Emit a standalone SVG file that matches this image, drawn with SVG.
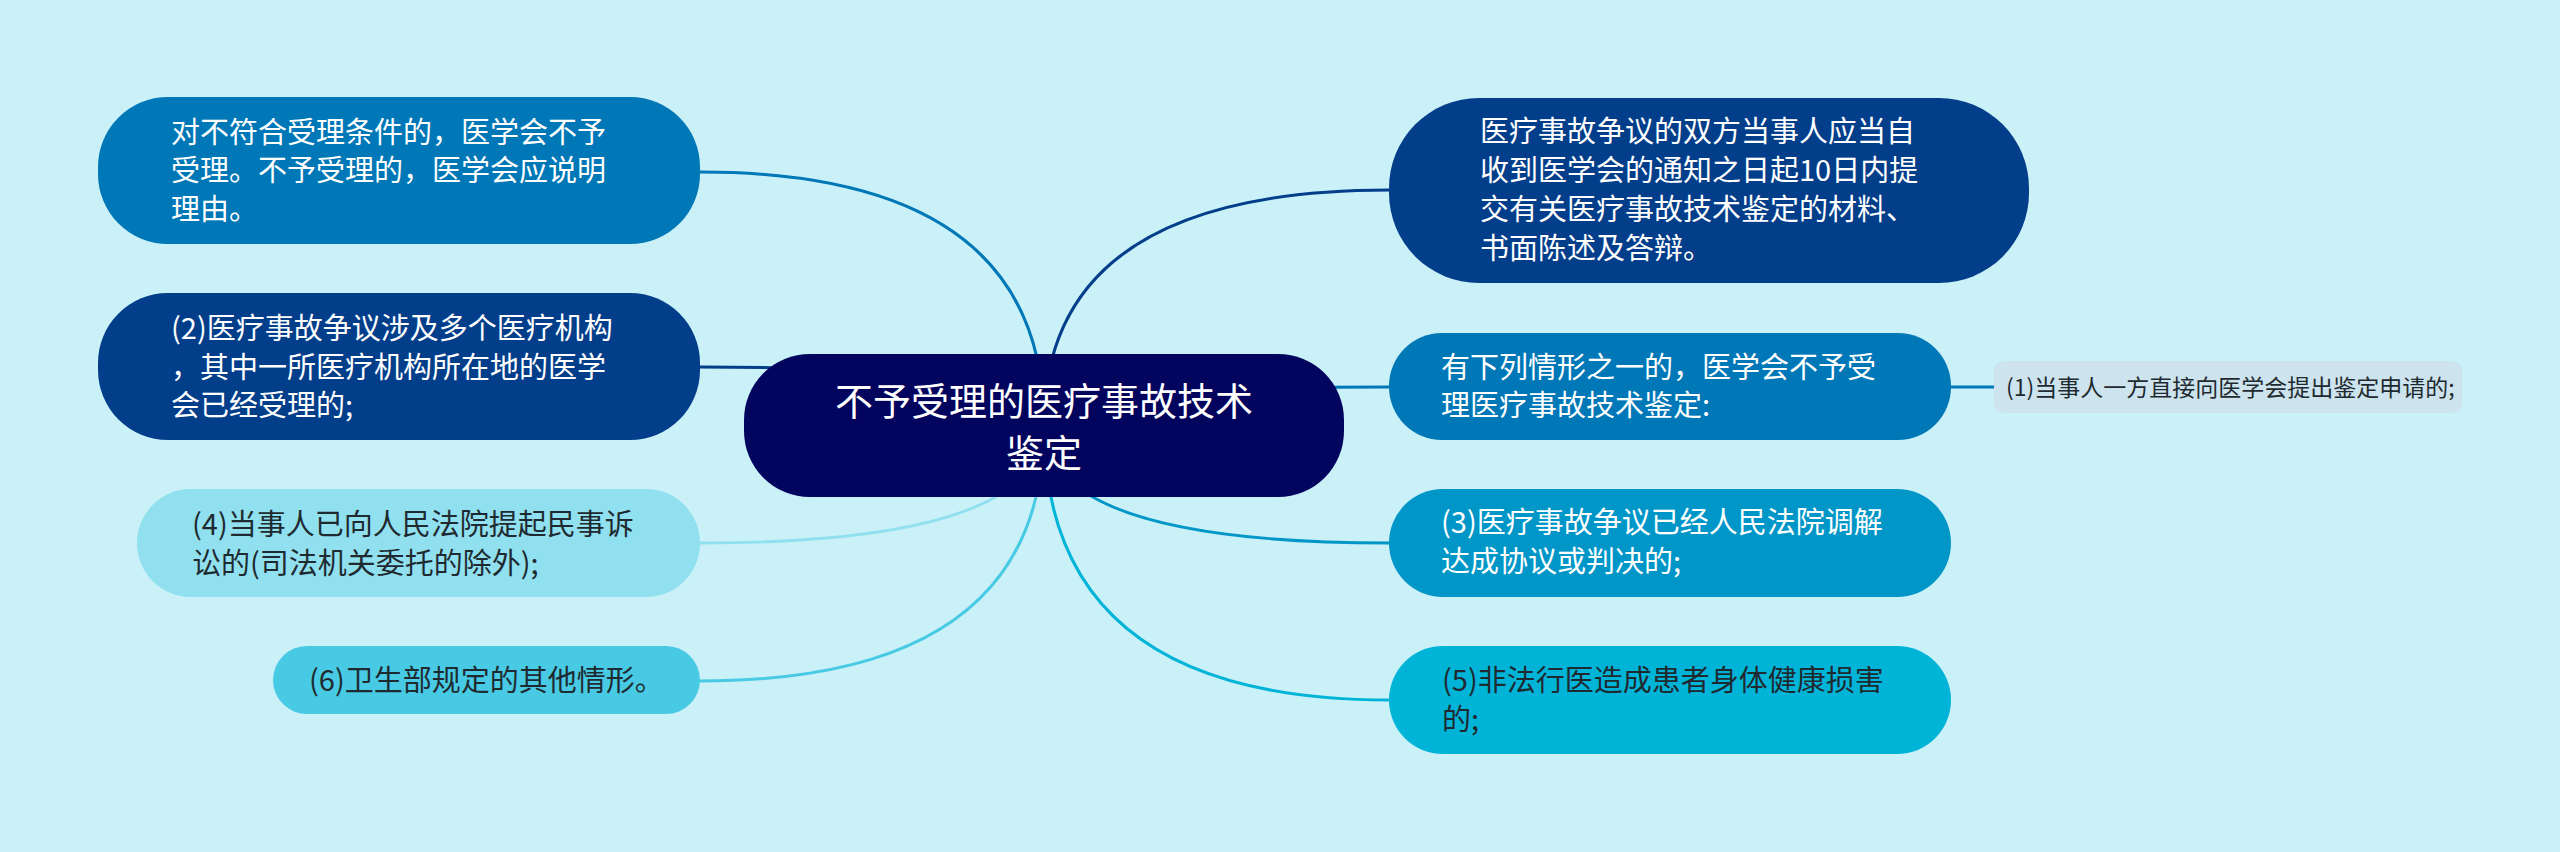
<svg xmlns="http://www.w3.org/2000/svg" width="2560" height="852" viewBox="0 0 2560 852">
<style>
text{font-family:"Noto Sans CJK SC","Noto Sans",sans-serif;}
.t{font-size:29px;}
.w{fill:#ffffff;}
.d{fill:#1f2a30;}
.c{fill:none;stroke-width:3;stroke-linecap:round;}
</style>
<rect width="2560" height="852" fill="#caf0f8"/>
<g id="connectors">
<path class="c" stroke="#0077b6" d="M1044 425 Q1044 172 700 172"/>
<path class="c" stroke="#023e8a" d="M1044 425 Q1044 367 700 367"/>
<path class="c" stroke="#90e0ef" d="M1044 425 Q1044 543 700 543"/>
<path class="c" stroke="#48cae4" d="M1044 425 Q1044 681 700 681"/>
<path class="c" stroke="#023e8a" d="M1044 425 Q1044 190 1389 190"/>
<path class="c" stroke="#0077b6" d="M1044 425 Q1044 387 1389 387"/>
<path class="c" stroke="#0096c7" d="M1044 425 Q1044 543 1389 543"/>
<path class="c" stroke="#00b4d8" d="M1044 425 Q1044 700 1389 700"/>
<path class="c" stroke="#0077b6" d="M1951 387 L1994 387"/>
</g>
<g id="center">
<rect x="744" y="354" width="600" height="143" rx="66" fill="#03045e"/>
<text x="1044" y="415" text-anchor="middle" font-size="38" class="w">不予受理的医疗事故技术</text>
<text x="1044" y="467" text-anchor="middle" font-size="38" class="w">鉴定</text>
</g>
<g id="n1">
<rect x="98" y="97" width="602" height="147" rx="70" fill="#0077b6"/>
<text class="t w" x="171" y="143">对不符合受理条件的，医学会不予</text>
<text class="t w" x="171" y="181">受理。不予受理的，医学会应说明</text>
<text class="t w" x="171" y="220">理由。</text>
</g>
<g id="n2">
<rect x="98" y="293" width="602" height="147" rx="70" fill="#023e8a"/>
<text class="t w" x="171" y="339">(2)医疗事故争议涉及多个医疗机构</text>
<text class="t w" x="171" y="378">，其中一所医疗机构所在地的医学</text>
<text class="t w" x="171" y="416">会已经受理的;</text>
</g>
<g id="n4">
<rect x="137" y="489" width="563" height="108" rx="54" fill="#90e0ef"/>
<text class="t d" x="192" y="535">(4)当事人已向人民法院提起民事诉</text>
<text class="t d" x="192" y="574">讼的(司法机关委托的除外);</text>
</g>
<g id="n6">
<rect x="273" y="646" width="427" height="68" rx="34" fill="#48cae4"/>
<text class="t d" x="309" y="691">(6)卫生部规定的其他情形。</text>
</g>
<g id="r1">
<rect x="1389" y="98" width="640" height="185" rx="90" fill="#023e8a"/>
<text class="t w" x="1480" y="142">医疗事故争议的双方当事人应当自</text>
<text class="t w" x="1480" y="181">收到医学会的通知之日起10日内提</text>
<text class="t w" x="1480" y="220">交有关医疗事故技术鉴定的材料、</text>
<text class="t w" x="1480" y="259">书面陈述及答辩。</text>
</g>
<g id="r2">
<rect x="1389" y="333" width="562" height="107" rx="53" fill="#0077b6"/>
<text class="t w" x="1441" y="378">有下列情形之一的，医学会不予受</text>
<text class="t w" x="1441" y="416">理医疗事故技术鉴定:</text>
</g>
<g id="r2c1">
<rect x="1994" y="361" width="468" height="52" rx="9" fill="#cde4ee"/>
<text x="2006" y="396" font-size="23" class="d">(1)当事人一方直接向医学会提出鉴定申请的;</text>
</g>
<g id="r3">
<rect x="1389" y="489" width="562" height="108" rx="54" fill="#0096c7"/>
<text class="t w" x="1441" y="533">(3)医疗事故争议已经人民法院调解</text>
<text class="t w" x="1441" y="572">达成协议或判决的;</text>
</g>
<g id="r4">
<rect x="1389" y="646" width="562" height="108" rx="54" fill="#00b4d8"/>
<text class="t d" x="1442" y="691">(5)非法行医造成患者身体健康损害</text>
<text class="t d" x="1442" y="730">的;</text>
</g>
</svg>
